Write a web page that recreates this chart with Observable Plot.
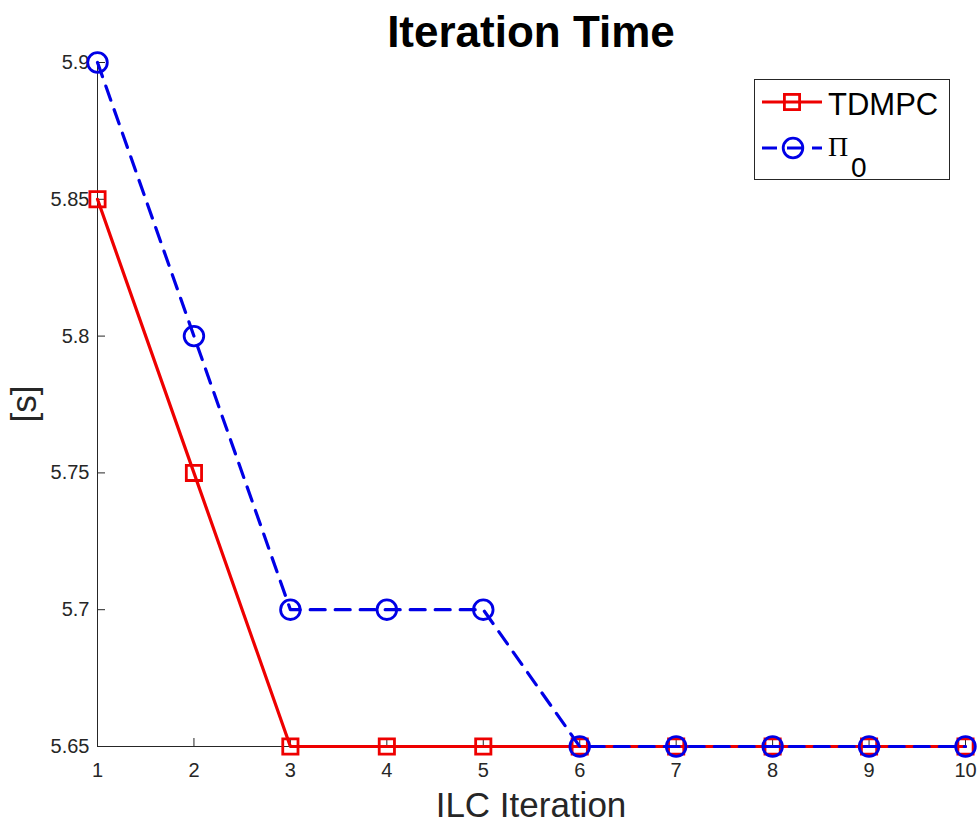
<!DOCTYPE html>
<html>
<head>
<meta charset="utf-8">
<script src="https://cdn.jsdelivr.net/npm/d3@7"></script>
<script src="https://cdn.jsdelivr.net/npm/@observablehq/plot@0.6"></script>
<style>
  html, body { margin: 0; padding: 0; background: #fff; }
  #chart { width: 980px; height: 839px; }
</style>
</head>
<body>
<div id="chart"></div>
<script>
const iterations = [1, 2, 3, 4, 5, 6, 7, 8, 9, 10];
const tdmpc = [5.85, 5.75, 5.65, 5.65, 5.65, 5.65, 5.65, 5.65, 5.65, 5.65];
const pi0 = [5.9, 5.8, 5.7, 5.7, 5.7, 5.65, 5.65, 5.65, 5.65, 5.65];
const xTicks = [1, 2, 3, 4, 5, 6, 7, 8, 9, 10];
const yTicks = [5.65, 5.7, 5.75, 5.8, 5.85, 5.9];
const yTickLabels = ["5.65", "5.7", "5.75", "5.8", "5.85", "5.9"];

const RED = "#ee0000";
const BLUE = "#0000e6";
const AXIS = "#262626";
const FONT = "'Liberation Sans', Arial, Helvetica, sans-serif";

const redData = iterations.map((x, i) => ({x, y: tdmpc[i]}));
const blueData = iterations.map((x, i) => ({x, y: pi0[i]}));

const plot = Plot.plot({
  width: 980,
  height: 839,
  marginLeft: 97,
  marginRight: 15,
  marginTop: 62,
  marginBottom: 93,
  style: {fontFamily: FONT, background: "white", overflow: "visible"},
  x: {domain: [1, 10]},
  y: {domain: [5.65, 5.9]},
  marks: [
    Plot.axisX(xTicks, {tickSize: 0, tickPadding: 16, fontSize: 20, fill: AXIS, label: null, tickFormat: d => String(d)}),
    Plot.axisY(yTicks, {tickSize: 0, tickPadding: 8, fontSize: 20, fill: AXIS, label: null, tickFormat: d => yTickLabels[yTicks.indexOf(d)]}),
    Plot.axisX(xTicks, {tickSize: -8, fill: "none", stroke: AXIS, label: null}),
    Plot.axisY(yTicks, {tickSize: -8, fill: "none", stroke: AXIS, label: null}),
    Plot.ruleY([5.65], {stroke: AXIS, strokeWidth: 1}),
    Plot.ruleX([1], {stroke: AXIS, strokeWidth: 1}),
    Plot.line(redData, {x: "x", y: "y", stroke: RED, strokeWidth: 3.2}),
    Plot.dot(redData, {x: "x", y: "y", symbol: "square", r: 8.6, stroke: RED, strokeWidth: 2.8, fill: "none"}),
    Plot.line(blueData, {x: "x", y: "y", stroke: BLUE, strokeWidth: 3.2, strokeDasharray: "15,10"}),
    Plot.dot(blueData, {x: "x", y: "y", symbol: "circle", r: 9.8, stroke: BLUE, strokeWidth: 2.8, fill: "none"})
  ]
});

document.getElementById("chart").appendChild(plot);

const svg = d3.select(plot);
// Title
svg.append("text").attr("x", 531).attr("y", 47).attr("text-anchor", "middle")
  .attr("font-family", FONT).attr("font-size", 44).attr("font-weight", "bold").attr("fill", "#000")
  .text("Iteration Time");
// X label
svg.append("text").attr("x", 531).attr("y", 817).attr("text-anchor", "middle")
  .attr("font-family", FONT).attr("font-size", 35).attr("fill", AXIS)
  .text("ILC Iteration");
// Y label
svg.append("text").attr("transform", "translate(36,404) rotate(-90)").attr("text-anchor", "middle")
  .attr("font-family", FONT).attr("font-size", 35).attr("fill", AXIS)
  .text("[s]");

// Legend
const lg = svg.append("g").attr("text-anchor", "start");
lg.append("rect").attr("x", 754.5).attr("y", 79.5).attr("width", 195).attr("height", 100)
  .attr("fill", "white").attr("stroke", AXIS).attr("stroke-width", 1);
lg.append("line").attr("x1", 762).attr("x2", 822).attr("y1", 102).attr("y2", 102)
  .attr("stroke", RED).attr("stroke-width", 3.2);
lg.append("rect").attr("x", 792 - 7.6).attr("y", 102 - 7.6).attr("width", 15.2).attr("height", 15.2)
  .attr("fill", "none").attr("stroke", RED).attr("stroke-width", 2.8);
lg.append("text").attr("x", 828).attr("y", 115).attr("text-anchor", "start").attr("font-family", FONT).attr("font-size", 31).attr("fill", "#000")
  .text("TDMPC");
lg.append("line").attr("x1", 762).attr("x2", 822).attr("y1", 148).attr("y2", 148)
  .attr("stroke", BLUE).attr("stroke-width", 3.2).attr("stroke-dasharray", "15,10");
lg.append("circle").attr("cx", 793).attr("cy", 148).attr("r", 9.8)
  .attr("fill", "none").attr("stroke", BLUE).attr("stroke-width", 2.8);
lg.append("text").attr("x", 828).attr("y", 156).attr("text-anchor", "start").attr("font-family", "'Liberation Serif', 'Times New Roman', serif")
  .attr("font-size", 28).attr("fill", "#000").text("\u03A0");
lg.append("text").attr("x", 851).attr("y", 177).attr("text-anchor", "start").attr("font-family", FONT)
  .attr("font-size", 28).attr("fill", "#000").text("0");
</script>
</body>
</html>
